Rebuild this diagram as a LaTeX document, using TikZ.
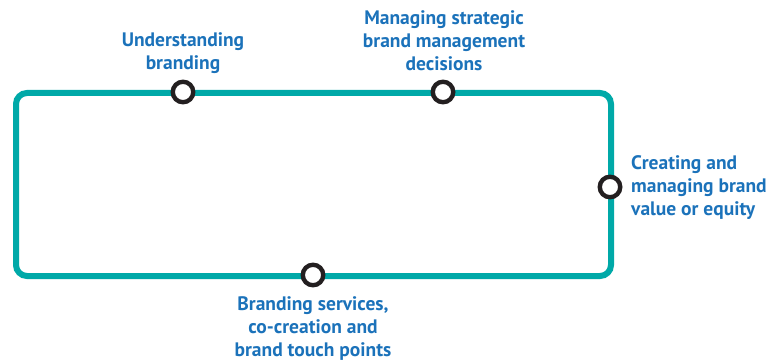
\documentclass[tikz,border=0pt]{standalone}
\usepackage{fontspec}
\setmainfont{PT Sans}
\definecolor{tealc}{HTML}{00A9A8}
\definecolor{txtblue}{HTML}{1B72BA}
\definecolor{ringc}{HTML}{231F20}
\begin{document}
\begin{tikzpicture}[x=1pt,y=-1pt,
  loop/.style={draw=tealc,line width=6pt,rounded corners=11pt},
  ring/.style={circle,draw=ringc,fill=white,line width=4.4pt,minimum size=20.5pt,inner sep=0pt},
  lbl/.style={text=txtblue,font=\fontsize{19.5}{23}\selectfont\bfseries,inner sep=0pt,align=center}]
\useasboundingbox (0,0) rectangle (773,363);
\draw[loop] (16,93) rectangle (611,276);
\node[ring] (r1) at (183,92) {};
\node[ring] (r2) at (443,92) {};
\node[ring] (r3) at (610,187) {};
\node[ring] (r4) at (313,275) {};
\node[lbl] (t1) at (183,53) {Understanding\\branding};
\node[lbl] (t2) at (444,41) {Managing strategic\\brand management\\decisions};
\node[lbl,align=left,anchor=west] (t3) at (631,188) {Creating and\\managing brand\\value or equity};
\node[lbl] (t4) at (313,329) {Branding services,\\co-creation and\\brand touch points};
\end{tikzpicture}
\end{document}
